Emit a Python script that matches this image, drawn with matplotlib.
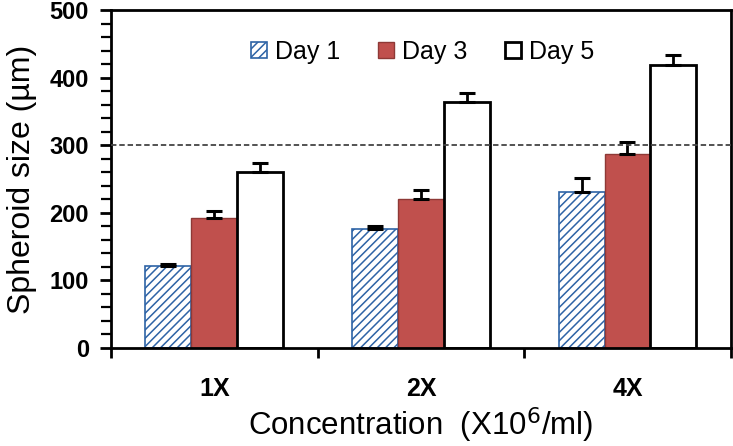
import numpy as np
import matplotlib.pyplot as plt
from matplotlib.ticker import MultipleLocator, FixedLocator

plt.rcParams['font.family'] = ['Liberation Sans', 'DejaVu Sans']
plt.rcParams['hatch.linewidth'] = 1.1

# data
categories = ['1X', '2X', '4X']
series = ['Day 1', 'Day 3', 'Day 5']
day1 = [121, 176, 231]
day1_err = [3, 4, 20]
day3 = [192, 220, 287]
day3_err = [11, 14, 18]
day5 = [260, 364, 419]
day5_err = [14, 13, 14]
threshold = 300

fig = plt.figure(figsize=(7.33, 4.46), dpi=100)
ax = fig.add_axes([0.1514, 0.2197, 0.8456, 0.7579])

x = np.arange(len(categories))
w = 0.222
styles = [
    dict(facecolor='white', edgecolor='#2E63A6', hatch='////', linewidth=1.2),
    dict(facecolor='#C0504D', edgecolor='#8E3936', linewidth=1.0),
    dict(facecolor='white', edgecolor='black', linewidth=2.0),
]
vals = [day1, day3, day5]
errs = [day1_err, day3_err, day5_err]
for i, (v, e, st) in enumerate(zip(vals, errs, styles)):
    xs = x + (i - 1) * w
    ax.bar(xs, v, width=w, label=series[i], zorder=2, **st)
    # only the upper half of the error bar is drawn
    ax.errorbar(xs, v, yerr=[np.zeros(len(e)), e], fmt='none', ecolor='black',
                elinewidth=2, capsize=6, capthick=2.2, zorder=3)

ax.axhline(threshold, color='#444444', linestyle=(0, (3, 1.6)), linewidth=1.3, zorder=4)

ax.set_xlim(-0.5, 2.5)
ax.set_ylim(0, 500)
ax.yaxis.set_major_locator(MultipleLocator(100))
ax.yaxis.set_minor_locator(MultipleLocator(20))
ax.set_xticks(x)
ax.set_xticklabels(categories)
ax.xaxis.set_minor_locator(FixedLocator([-0.5, 0.5, 1.5, 2.5]))
ax.tick_params(axis='x', which='major', length=0, pad=21, labelsize=18)
ax.tick_params(axis='x', which='minor', length=7, width=2, direction='out')
ax.tick_params(axis='y', which='major', length=8, width=2, labelsize=17, pad=8)
ax.tick_params(axis='y', which='minor', length=7, width=1.6)
for lab in ax.get_xticklabels() + ax.get_yticklabels():
    lab.set_fontweight('bold')

for sp in ax.spines.values():
    sp.set_linewidth(2)

ax.set_ylabel('Spheroid size (\u00b5m)', fontsize=23, labelpad=9)
ax.set_xlabel('Concentration  (X10$^{6}$/ml)', fontsize=22.5, labelpad=3)

ax.legend(loc='center', bbox_to_anchor=(0.503, 0.876), ncol=3, frameon=False,
          fontsize=18, handlelength=0.64, handleheight=0.64, handletextpad=0.32,
          columnspacing=1.5)

fig.savefig('out.png', dpi=100)
